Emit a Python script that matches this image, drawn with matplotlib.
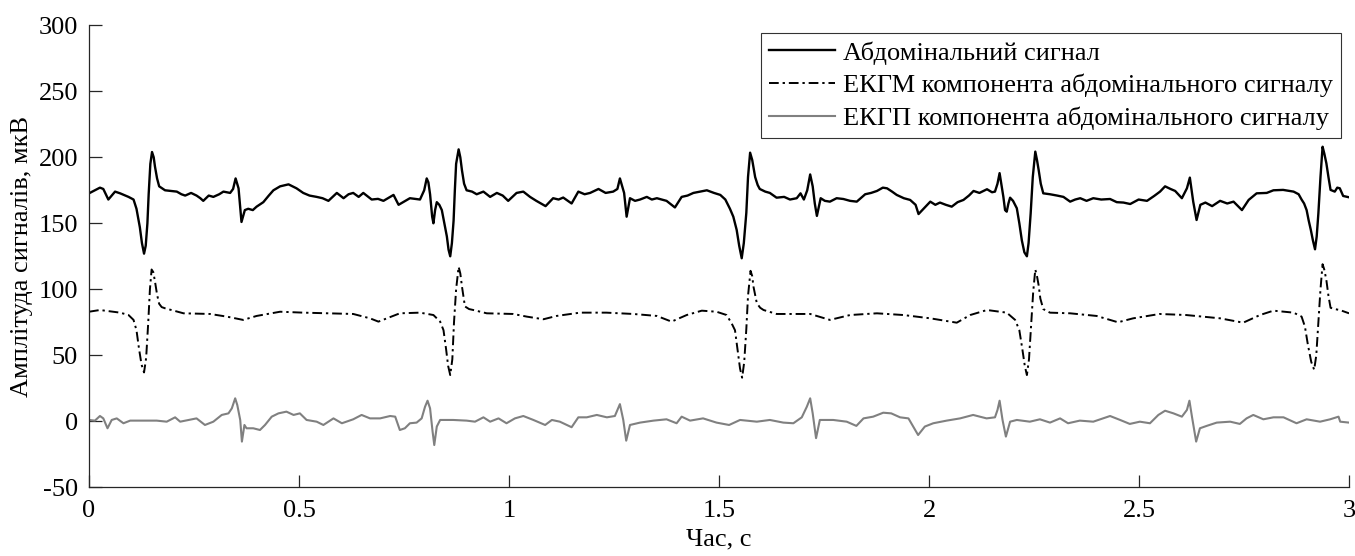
import matplotlib
matplotlib.use("Agg")
import matplotlib.pyplot as plt

plt.rcParams['font.family'] = ['Liberation Serif', 'DejaVu Serif']

# abdominal signal, uV
t_abd = [0.000, 0.026, 0.034, 0.046, 0.062, 0.074, 0.094, 0.106, 0.113, 0.121, 0.126, 0.131, 0.135, 0.139,
         0.142, 0.146, 0.150, 0.154, 0.157, 0.162, 0.167, 0.181, 0.195, 0.209, 0.220, 0.229, 0.243, 0.256,
         0.265, 0.272, 0.285, 0.296, 0.310, 0.320, 0.336, 0.343, 0.349, 0.356, 0.363, 0.371, 0.379, 0.390,
         0.399, 0.415, 0.428, 0.439, 0.455, 0.475, 0.494, 0.510, 0.525, 0.542, 0.556, 0.570, 0.580, 0.590,
         0.606, 0.618, 0.629, 0.642, 0.653, 0.673, 0.688, 0.701, 0.725, 0.737, 0.748, 0.764, 0.788, 0.798,
         0.804, 0.808, 0.812, 0.817, 0.820, 0.824, 0.828, 0.834, 0.840, 0.846, 0.852, 0.856, 0.860, 0.864,
         0.868, 0.871, 0.874, 0.880, 0.884, 0.888, 0.893, 0.899, 0.912, 0.923, 0.939, 0.955, 0.971, 0.985,
         0.998, 1.018, 1.034, 1.050, 1.065, 1.087, 1.105, 1.118, 1.129, 1.149, 1.165, 1.180, 1.193, 1.213,
         1.230, 1.248, 1.258, 1.264, 1.274, 1.280, 1.288, 1.300, 1.312, 1.328, 1.340, 1.352, 1.375, 1.395,
         1.411, 1.425, 1.439, 1.455, 1.471, 1.488, 1.503, 1.515, 1.526, 1.534, 1.542, 1.548, 1.554, 1.559,
         1.565, 1.569, 1.574, 1.579, 1.586, 1.592, 1.597, 1.610, 1.621, 1.637, 1.655, 1.669, 1.685, 1.694,
         1.702, 1.710, 1.717, 1.723, 1.728, 1.733, 1.742, 1.752, 1.764, 1.780, 1.796, 1.812, 1.828, 1.848,
         1.862, 1.876, 1.890, 1.900, 1.912, 1.923, 1.940, 1.955, 1.968, 1.975, 1.990, 2.003, 2.015, 2.026,
         2.040, 2.054, 2.068, 2.082, 2.095, 2.106, 2.120, 2.138, 2.150, 2.157, 2.163, 2.168, 2.172, 2.177,
         2.181, 2.185, 2.189, 2.193, 2.200, 2.209, 2.215, 2.221, 2.227, 2.233, 2.237, 2.242, 2.247, 2.253,
         2.257, 2.261, 2.266, 2.272, 2.288, 2.305, 2.320, 2.336, 2.348, 2.360, 2.375, 2.391, 2.410, 2.431,
         2.447, 2.463, 2.479, 2.499, 2.519, 2.536, 2.550, 2.562, 2.575, 2.586, 2.602, 2.614, 2.621, 2.629,
         2.637, 2.646, 2.658, 2.674, 2.693, 2.710, 2.725, 2.745, 2.761, 2.780, 2.804, 2.820, 2.843, 2.868,
         2.880, 2.887, 2.893, 2.899, 2.904, 2.909, 2.914, 2.919, 2.923, 2.927, 2.932, 2.937, 2.941, 2.946,
         2.951, 2.956, 2.966, 2.972, 2.978, 2.986, 3.000]
v_abd = [172.7, 177.0, 176.0, 168.0, 174.0, 172.7, 170.0, 168.0, 161.0, 147.0, 135.0, 127.0, 133.0, 150.0,
         172.0, 195.0, 204.0, 200.0, 193.0, 184.0, 178.0, 175.0, 174.5, 174.0, 172.0, 171.0, 173.0, 171.0,
         169.0, 167.0, 171.0, 170.0, 172.0, 174.0, 173.0, 176.0, 184.0, 176.5, 151.0, 160.0, 161.0, 160.0,
         162.6, 166.0, 171.0, 175.0, 178.0, 179.5, 176.5, 173.0, 171.0, 170.0, 169.0, 167.0, 170.0, 173.0,
         169.0, 172.0, 173.0, 170.0, 173.0, 168.0, 168.5, 167.0, 171.5, 164.0, 166.0, 169.0, 168.0, 175.0,
         184.0, 181.0, 172.0, 155.0, 150.0, 160.0, 166.0, 164.0, 160.0, 150.0, 140.0, 130.0, 125.0, 135.0,
         152.0, 175.0, 195.0, 206.0, 200.0, 190.0, 180.0, 175.0, 174.0, 172.0, 174.0, 170.0, 173.0, 171.0,
         167.0, 173.0, 174.0, 170.0, 167.0, 163.0, 169.0, 168.0, 169.5, 165.0, 174.0, 172.0, 173.0, 176.0,
         173.0, 174.0, 176.0, 184.0, 173.0, 155.0, 169.0, 167.0, 168.0, 170.0, 168.0, 169.0, 167.0, 162.0,
         170.0, 171.0, 173.0, 174.0, 175.0, 173.0, 171.5, 168.0, 161.0, 155.0, 145.0, 133.0, 123.5, 135.0,
         158.0, 185.0, 203.5, 198.0, 185.0, 179.0, 176.0, 174.0, 173.0, 169.4, 170.0, 168.0, 169.0, 172.7,
         168.0, 175.0, 187.0, 178.0, 165.0, 155.6, 169.0, 167.0, 166.4, 169.0, 168.4, 167.0, 166.4, 172.0,
         173.0, 174.5, 177.0, 176.5, 174.0, 171.5, 169.0, 167.7, 164.0, 157.0, 162.0, 166.4, 164.0, 165.7,
         164.0, 162.6, 166.0, 167.7, 171.0, 174.5, 173.0, 175.8, 173.5, 174.0, 180.0, 188.0, 180.0, 170.0,
         160.0, 158.8, 165.0, 169.4, 167.0, 161.4, 150.0, 137.0, 128.0, 125.0, 135.0, 157.6, 185.0, 204.3,
         198.0, 190.4, 180.0, 172.7, 172.0, 171.0, 170.0, 166.4, 168.0, 169.0, 167.0, 169.0, 168.0, 168.4,
         166.0, 165.7, 164.6, 168.0, 167.0, 170.7, 174.0, 178.0, 176.0, 174.5, 169.0, 176.5, 184.6, 166.4,
         152.5, 164.0, 165.7, 163.0, 167.0, 165.0, 166.4, 160.0, 167.7, 172.7, 173.0, 175.0, 175.3, 174.0,
         172.0, 168.0, 165.0, 160.0, 152.0, 145.0, 137.0, 130.3, 140.0, 157.6, 185.0, 208.0, 203.0, 195.5,
         185.0, 175.3, 174.0, 177.0, 176.5, 170.7, 169.7]

# maternal ECG component, uV
t_mat = [0.000, 0.026, 0.074, 0.094, 0.106, 0.113, 0.119, 0.125, 0.131, 0.136, 0.141, 0.145, 0.149, 0.153,
         0.157, 0.162, 0.167, 0.173, 0.181, 0.225, 0.288, 0.328, 0.367, 0.399, 0.455, 0.510, 0.566, 0.629,
         0.669, 0.689, 0.709, 0.740, 0.788, 0.820, 0.836, 0.844, 0.850, 0.855, 0.860, 0.865, 0.869, 0.874,
         0.880, 0.884, 0.888, 0.895, 0.905, 0.915, 0.947, 1.010, 1.042, 1.082, 1.113, 1.169, 1.232, 1.296,
         1.352, 1.387, 1.423, 1.459, 1.494, 1.518, 1.530, 1.538, 1.545, 1.550, 1.555, 1.560, 1.565, 1.569,
         1.575, 1.579, 1.582, 1.590, 1.598, 1.606, 1.637, 1.717, 1.764, 1.812, 1.876, 1.939, 2.003, 2.066,
         2.098, 2.138, 2.185, 2.205, 2.215, 2.222, 2.228, 2.233, 2.238, 2.243, 2.248, 2.253, 2.257, 2.261,
         2.265, 2.272, 2.288, 2.336, 2.399, 2.450, 2.486, 2.549, 2.612, 2.693, 2.748, 2.788, 2.820, 2.868,
         2.887, 2.895, 2.902, 2.910, 2.917, 2.922, 2.927, 2.932, 2.937, 2.941, 2.946, 2.951, 2.956, 2.966,
         2.978, 3.000]
v_mat = [83.0, 84.3, 82.3, 80.5, 76.8, 69.0, 55.0, 43.0, 37.0, 48.0, 75.0, 100.0, 115.0, 113.0,
         106.0, 96.0, 89.0, 86.5, 85.6, 81.8, 81.3, 79.3, 76.8, 79.8, 83.0, 82.3, 81.8, 81.3,
         78.0, 75.5, 78.0, 81.8, 82.3, 80.5, 75.5, 69.0, 55.0, 42.0, 35.0, 47.0, 75.0, 100.0,
         117.0, 112.0, 102.0, 87.0, 85.0, 84.3, 81.8, 81.3, 79.3, 77.3, 79.8, 82.3, 82.3, 81.3,
         79.8, 75.5, 80.5, 83.8, 83.0, 80.5, 74.2, 69.0, 52.0, 40.0, 33.0, 45.0, 70.0, 95.0,
         114.0, 110.0, 102.0, 89.4, 86.0, 84.3, 81.3, 81.3, 76.8, 80.5, 81.8, 80.5, 78.0, 74.7,
         80.5, 84.3, 82.3, 76.8, 69.0, 55.0, 42.0, 35.0, 47.0, 72.0, 98.0, 115.0, 110.0, 103.0,
         93.0, 85.0, 82.3, 81.8, 79.8, 75.0, 78.0, 81.3, 80.5, 78.0, 74.7, 80.5, 83.8, 82.3,
         79.3, 71.7, 58.0, 45.0, 39.0, 50.0, 75.0, 100.0, 119.0, 115.0, 107.0, 95.0, 86.0, 85.0,
         84.3, 81.8]

# fetal ECG component, uV
t_fet = [0.000, 0.014, 0.026, 0.034, 0.044, 0.054, 0.066, 0.082, 0.098, 0.129, 0.161, 0.185, 0.205, 0.217,
         0.237, 0.256, 0.276, 0.296, 0.316, 0.332, 0.340, 0.348, 0.353, 0.360, 0.364, 0.370, 0.375, 0.391,
         0.407, 0.419, 0.435, 0.451, 0.470, 0.487, 0.502, 0.518, 0.542, 0.558, 0.582, 0.602, 0.629, 0.649,
         0.669, 0.693, 0.717, 0.729, 0.740, 0.752, 0.764, 0.780, 0.792, 0.800, 0.806, 0.812, 0.818, 0.822,
         0.828, 0.836, 0.867, 0.899, 0.919, 0.939, 0.955, 0.975, 0.994, 1.014, 1.034, 1.058, 1.086, 1.102,
         1.121, 1.149, 1.165, 1.185, 1.209, 1.233, 1.252, 1.264, 1.272, 1.279, 1.288, 1.312, 1.344, 1.375,
         1.399, 1.411, 1.431, 1.462, 1.494, 1.524, 1.550, 1.590, 1.621, 1.653, 1.677, 1.697, 1.709, 1.717,
         1.723, 1.731, 1.740, 1.772, 1.804, 1.827, 1.844, 1.867, 1.891, 1.910, 1.931, 1.951, 1.974, 1.990,
         2.010, 2.042, 2.074, 2.105, 2.137, 2.157, 2.163, 2.168, 2.175, 2.183, 2.193, 2.209, 2.240, 2.264,
         2.288, 2.312, 2.331, 2.359, 2.391, 2.431, 2.455, 2.478, 2.502, 2.526, 2.546, 2.562, 2.582, 2.602,
         2.614, 2.620, 2.626, 2.636, 2.645, 2.661, 2.685, 2.717, 2.740, 2.756, 2.772, 2.796, 2.820, 2.844,
         2.875, 2.899, 2.931, 2.955, 2.975, 2.979, 3.000]
v_fet = [1.0, 0.5, 4.0, 2.2, -5.3, 1.0, 2.2, -1.5, 0.5, 0.5, 0.5, -0.3, 3.0, -0.3,
         1.0, 2.2, -2.8, -0.3, 4.8, 6.0, 9.8, 17.4, 12.3, 1.0, -15.4, -2.8, -5.3, -5.3,
         -6.6, -2.8, 3.5, 6.0, 7.3, 4.8, 6.0, 1.0, -0.3, -2.8, 2.2, -1.5, 1.5, 4.8,
         2.2, 2.2, 4.0, 3.5, -6.6, -5.3, -1.5, -1.0, 2.2, 11.0, 15.6, 9.8, -7.8, -18.0,
         -4.0, 1.0, 1.0, 0.5, -0.3, 3.0, -0.3, 2.2, -1.5, 2.2, 4.0, 1.0, -2.8, 1.0,
         -0.3, -4.5, 3.0, 3.0, 4.8, 3.0, 4.0, 13.0, 1.0, -14.7, -2.8, -1.0, 0.5, 1.5,
         -1.5, 3.5, 0.5, 2.2, -1.0, -2.8, 1.0, -0.3, 1.0, -1.0, -1.5, 3.0, 11.0, 17.4,
         6.0, -12.8, 1.0, 1.0, -0.3, -3.5, 2.2, 3.5, 6.5, 6.0, 3.0, 2.2, -10.4, -4.0,
         -1.5, 0.5, 2.2, 4.8, 2.2, 3.0, 8.6, 15.6, 1.0, -11.6, -0.3, 1.0, -0.3, 1.5,
         -1.0, 2.2, -1.5, 0.5, -0.3, 4.0, 1.0, -2.0, -0.3, -1.5, 4.8, 8.0, 6.0, 3.5,
         8.6, 15.6, 3.5, -15.4, -5.3, -3.5, -1.0, -0.3, -2.0, 2.2, 4.8, 1.5, 3.0, 3.0,
         -1.5, 1.5, -0.3, 1.5, 3.5, -0.3, -1.0]

labels = ['Абдомінальний сигнал',
          'ЕКГМ компонента абдомінального сигналу',
          'ЕКГП компонента абдомінального сигналу']

fig = plt.figure(figsize=(13.55, 5.56), dpi=100)
ax = fig.add_axes([0.0657, 0.1236, 0.9299, 0.8309])

ax.plot(t_abd, v_abd, color='black', linewidth=1.7, label=labels[0])
ax.plot(t_mat, v_mat, color='black', linewidth=1.4, linestyle=(0, (5, 2, 1.2, 2)), label=labels[1])
ax.plot(t_fet, v_fet, color='#808080', linewidth=1.5, label=labels[2])

ax.set_xlim(0, 3)
ax.set_ylim(-50, 300)
ax.set_xticks([0, 0.5, 1, 1.5, 2, 2.5, 3])
ax.set_xticklabels(['0', '0.5', '1', '1.5', '2', '2.5', '3'])
ax.set_yticks([-50, 0, 50, 100, 150, 200, 250, 300])
ax.set_yticklabels(['-50', '0', '50', '100', '150', '200', '250', '300'])

for side in ['top', 'right']:
    ax.spines[side].set_visible(False)
for side in ['left', 'bottom']:
    ax.spines[side].set_color('#262626')
    ax.spines[side].set_linewidth(0.9)
ax.tick_params(direction='in', length=9, width=0.9, color='#262626', labelsize=19)
ax.tick_params(axis='x', pad=9)
ax.tick_params(axis='y', pad=8)

ax.set_xlabel('Час, с', fontsize=19, labelpad=5)
ax.set_ylabel('Амплітуда сигналів, мкВ', fontsize=19, labelpad=4)

leg = ax.legend(loc='upper right', fontsize=19, frameon=True, fancybox=False,
                edgecolor='black', handlelength=2.5, handletextpad=0.3,
                labelspacing=0.35, borderpad=0.3, borderaxespad=0.3)
leg.get_frame().set_linewidth(0.8)

fig.savefig('out.png', dpi=100)
